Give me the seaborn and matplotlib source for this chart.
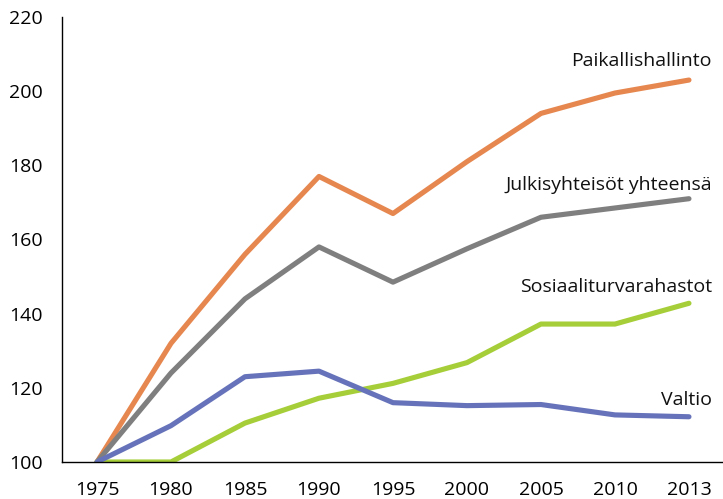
import matplotlib
matplotlib.use("Agg")
import matplotlib.pyplot as plt
import seaborn as sns
import pandas as pd

years = ["1975", "1980", "1985", "1990", "1995", "2000", "2005", "2010", "2013"]
paikallishallinto = [100, 132, 156, 177, 167, 181, 194, 199.5, 203]
julkisyhteisot = [100, 124, 144, 158, 148.5, 157.5, 166, 168.5, 171]
sosiaaliturva = [100, 100, 110.5, 117.2, 121.2, 126.8, 137.2, 137.2, 142.8]
valtio = [100, 109.8, 123, 124.5, 116, 115.2, 115.5, 112.7, 112.2]

series_names = ["Paikallishallinto", "Julkisyhteisöt yhteensä", "Sosiaaliturvarahastot", "Valtio"]
series_values = [paikallishallinto, julkisyhteisot, sosiaaliturva, valtio]
colors = ["#E6874F", "#7F7F7F", "#A6CE39", "#6673BA"]
label_y = [208.2, 174.8, 147.3, 116.6]

rows = []
for name, vals in zip(series_names, series_values):
    for i, v in enumerate(vals):
        rows.append({"idx": i, "value": v, "series": name})
df = pd.DataFrame(rows)

sns.set_style("white")
plt.rcParams['font.family'] = ['Open Sans', 'DejaVu Sans']

fig = plt.figure(figsize=(7.23, 4.99), dpi=100)
ax = fig.add_axes([62/723, 37/499, (723-62)/723, 445/499])

sns.lineplot(data=df, x="idx", y="value", hue="series", hue_order=series_names,
             palette=colors, linewidth=3.7, ax=ax, legend=False, sort=False)
for line in ax.get_lines():
    line.set_solid_capstyle("round")
    line.set_solid_joinstyle("round")

ax.set_xlim(-0.473, 8.46)
ax.set_ylim(100, 220)
ax.set_yticks(range(100, 221, 20))
ax.set_yticklabels([str(v) for v in range(100, 221, 20)], fontsize=14, color="#000000")
ax.set_xticks(range(len(years)))
ax.set_xticklabels(years, fontsize=14, color="#000000")
ax.set_xticks([i + 0.5 for i in range(len(years) - 1)], minor=True)
ax.tick_params(axis="x", which="major", length=0, pad=14)
ax.tick_params(axis="x", which="minor", direction="in", length=5, width=0.8, color="#888888")
ax.tick_params(axis="y", direction="in", length=6, width=1.2, color="#AAAAAA", pad=14)
ax.set_xlabel("")
ax.set_ylabel("")

for s in ["top", "right"]:
    ax.spines[s].set_visible(False)
for s in ["left", "bottom"]:
    ax.spines[s].set_color("#000000")
    ax.spines[s].set_linewidth(1.0)

for name, ly in zip(series_names, label_y):
    ax.text(8.31, ly, name, ha="right", va="center", fontsize=14, color="#111111")

fig.savefig("out.png", dpi=100)
